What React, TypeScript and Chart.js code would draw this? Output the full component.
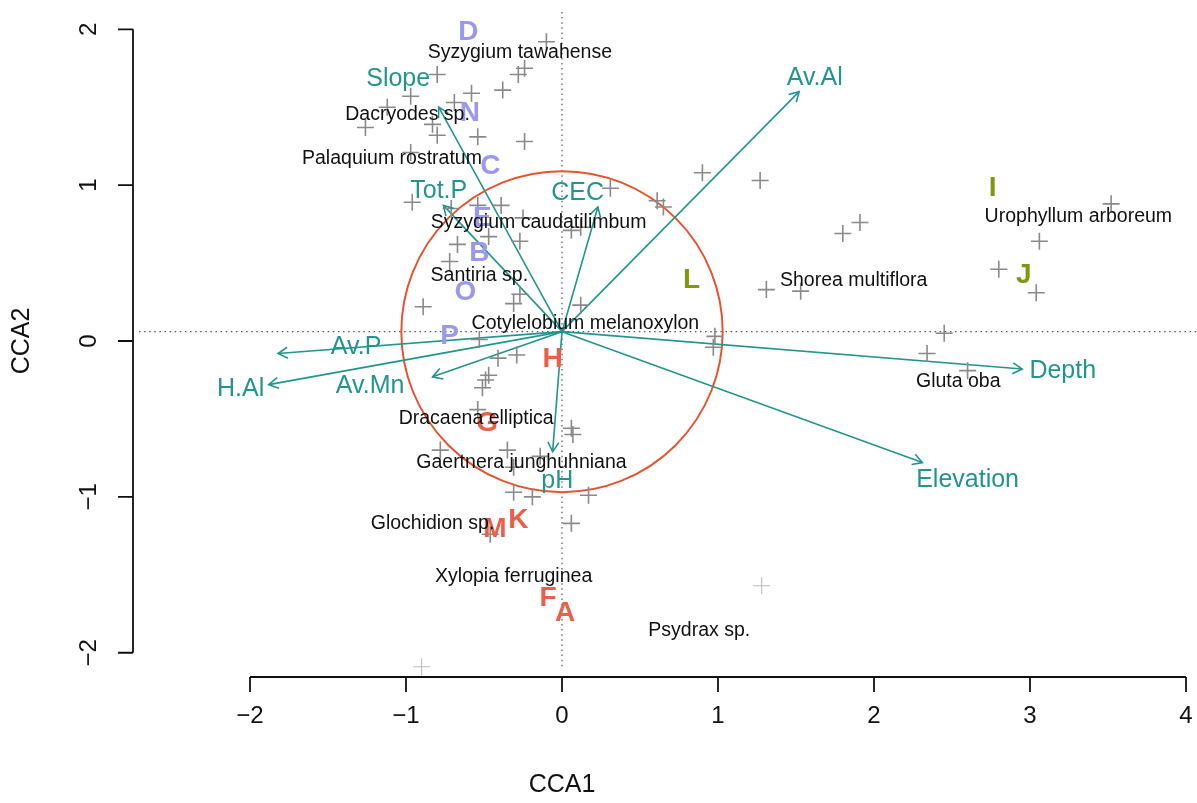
import React, { useEffect, useRef } from "react";
import { Chart, registerables } from "chart.js";

Chart.register(...registerables);

// ---------- axes ----------
const xTicks = [-2, -1, 0, 1, 2, 3, 4];
const yTicks = [-2, -1, 0, 1, 2];
const xTitle = "CCA1";
const yTitle = "CCA2";
const xRange = [-2.7115, 4.0705];
const yRange = [-2.098, 2.111];

// ---------- species scores (crosses) ----------
const speciesX = [
  -0.10, -0.80, -0.97, -0.58, -0.38, -0.28, -0.24, -0.69, -0.83, -1.26,
  -0.80, -0.54, -0.24, -0.97, -1.12, -0.96, -0.71, -0.54, -0.39, -0.25,
  -0.67, -0.47, -0.27, -0.72, -0.89, -0.31, -0.27, 0.12, 0.31, 0.61,
  0.65, 0.06, 0.12, 0.98, 0.97, -0.53, -0.41, -0.29, -0.47, -0.49,
  -0.51, -0.54, 0.06, 0.07, -0.78, -0.35, -0.14, -0.31, -0.31, -0.19,
  0.17, 0.06, -0.46, 0.90, 1.27, 1.80, 1.91, 1.31, 1.53, 3.52,
  3.06, 2.80, 3.04, 2.45, 2.34, 2.60,
];
const speciesY = [
  1.92, 1.71, 1.57, 1.59, 1.61, 1.71, 1.75, 1.53, 1.39, 1.37,
  1.32, 1.31, 1.28, 1.21, 1.50, 0.89, 0.85, 0.87, 0.87, 0.79,
  0.62, 0.67, 0.64, 0.51, 0.22, 0.24, 0.30, 0.23, 0.98, 0.90,
  0.86, 0.71, 0.73, 0.03, -0.04, 0.01, -0.11, -0.09, -0.22, -0.25,
  -0.30, -0.44, -0.56, -0.60, -0.70, -0.70, -0.74, -0.81, -0.97, -1.00,
  -0.99, -1.17, -1.24, 1.08, 1.03, 0.69, 0.76, 0.33, 0.32, 0.88,
  0.64, 0.46, 0.31, 0.05, -0.08, -0.19,
];
// faint crosses
const faintX = [1.28, -0.90];
const faintY = [-1.57, -2.09];

// ---------- species names ----------
const speciesNames = [
  "Syzygium tawahense", "Dacryodes sp.", "Palaquium rostratum",
  "Syzygium caudatilimbum", "Santiria sp.", "Cotylelobium melanoxylon",
  "Shorea multiflora", "Urophyllum arboreum", "Gluta oba",
  "Dracaena elliptica", "Gaertnera junghuhniana", "Glochidion sp.",
  "Xylopia ferruginea", "Psydrax sp.",
];
const speciesLabelX = [-0.27, -0.99, -1.09, -0.15, -0.53, 0.15, 1.87, 3.31, 2.54, -0.55, -0.26, -0.83, -0.31, 0.88];
const speciesLabelY = [1.85, 1.45, 1.17, 0.76, 0.42, 0.11, 0.385, 0.80, -0.26, -0.50, -0.78, -1.17, -1.51, -1.86];

// ---------- environmental vectors ----------
const envOrigin = [0, 0.06];
const envNames = ["Av.Al", "Depth", "Elevation", "Slope", "Tot.P", "CEC", "Av.P", "H.Al", "Av.Mn", "pH"];
const envTipX = [1.52, 2.95, 2.31, -0.79, -0.76, 0.23, -1.82, -1.88, -0.83, -0.06];
const envTipY = [1.60, -0.18, -0.78, 1.50, 0.87, 0.86, -0.08, -0.28, -0.23, -0.71];
const envLabelX = [1.62, 3.21, 2.60, -1.05, -0.79, 0.10, -1.32, -2.06, -1.23, -0.03];
const envLabelY = [1.69, -0.19, -0.89, 1.68, 0.96, 0.95, -0.04, -0.31, -0.29, -0.90];

// ---------- sites ----------
const siteNames = ["D", "N", "C", "E", "B", "O", "P", "H", "G", "M", "K", "F", "A", "L", "I", "J"];
const siteX = [-0.60, -0.59, -0.46, -0.51, -0.53, -0.62, -0.72, -0.06, -0.48, -0.43, -0.28, -0.09, 0.02, 0.83, 2.76, 2.96];
const siteY = [1.98, 1.46, 1.12, 0.79, 0.56, 0.31, 0.03, -0.12, -0.53, -1.21, -1.15, -1.65, -1.75, 0.39, 0.98, 0.42];
const siteGroup = [0, 0, 0, 0, 0, 0, 0, 1, 1, 1, 1, 1, 1, 2, 2, 2];

// ---------- circle ----------
const circleRadius = 1.03;

// ---------- styles ----------
const TEAL = "#22958F";
const GROUP_COLORS = ["#9B98F2", "#EC5E48", "#7E990F"];
const CIRCLE_COLOR = "#E8532F";
const FONT = '"Liberation Sans", Arial, Helvetica, sans-serif';

const ccaPlugin = {
  id: "ccaDecor",
  beforeDatasetsDraw(chart: any) {
    const { ctx, chartArea: a, scales } = chart;
    const x = scales.x;
    const y = scales.y;
    const ox = x.getPixelForValue(envOrigin[0]);
    const oy = y.getPixelForValue(envOrigin[1]);
    ctx.save();
    ctx.strokeStyle = "#555555";
    ctx.lineWidth = 1.2;
    ctx.setLineDash([1.5, 3.6]);
    ctx.beginPath();
    ctx.moveTo(a.left, oy);
    ctx.lineTo(a.right, oy);
    ctx.moveTo(ox, a.top);
    ctx.lineTo(ox, a.bottom);
    ctx.stroke();
    ctx.setLineDash([]);
    const rx = x.getPixelForValue(envOrigin[0] + circleRadius) - ox;
    const ry = oy - y.getPixelForValue(envOrigin[1] + circleRadius);
    ctx.strokeStyle = CIRCLE_COLOR;
    ctx.lineWidth = 2;
    ctx.beginPath();
    ctx.ellipse(ox, oy, rx, ry, 0, 0, Math.PI * 2);
    ctx.stroke();
    ctx.restore();
  },
  afterDatasetsDraw(chart: any) {
    const { ctx, scales } = chart;
    const x = scales.x;
    const y = scales.y;
    const ox = x.getPixelForValue(envOrigin[0]);
    const oy = y.getPixelForValue(envOrigin[1]);
    ctx.save();
    // arrow heads
    ctx.strokeStyle = TEAL;
    ctx.lineWidth = 1.6;
    envTipX.forEach((tx, i) => {
      const px = x.getPixelForValue(tx);
      const py = y.getPixelForValue(envTipY[i]);
      const ang = Math.atan2(py - oy, px - ox);
      const len = 11;
      const spread = Math.PI / 6;
      ctx.beginPath();
      ctx.moveTo(px - len * Math.cos(ang - spread), py - len * Math.sin(ang - spread));
      ctx.lineTo(px, py);
      ctx.lineTo(px - len * Math.cos(ang + spread), py - len * Math.sin(ang + spread));
      ctx.stroke();
    });
    ctx.textAlign = "center";
    ctx.textBaseline = "middle";
    // site letters
    ctx.font = `bold 28px ${FONT}`;
    siteNames.forEach((s, i) => {
      ctx.fillStyle = GROUP_COLORS[siteGroup[i]];
      ctx.fillText(s, x.getPixelForValue(siteX[i]), y.getPixelForValue(siteY[i]));
    });
    // species names
    ctx.font = `19.5px ${FONT}`;
    ctx.fillStyle = "#111111";
    speciesNames.forEach((s, i) => {
      ctx.fillText(s, x.getPixelForValue(speciesLabelX[i]), y.getPixelForValue(speciesLabelY[i]));
    });
    // env labels
    ctx.font = `25px ${FONT}`;
    ctx.fillStyle = TEAL;
    envNames.forEach((s, i) => {
      ctx.fillText(s, x.getPixelForValue(envLabelX[i]), y.getPixelForValue(envLabelY[i]));
    });
    ctx.restore();
  },
  afterDraw(chart: any) {
    const { ctx, scales } = chart;
    const x = scales.x;
    const y = scales.y;
    const axisY = 677;
    const axisX = 133;
    const tickLen = 15;
    ctx.save();
    ctx.strokeStyle = "#111111";
    ctx.lineWidth = 1.8;
    ctx.lineCap = "butt";
    // x axis
    const x0 = x.getPixelForValue(xTicks[0]);
    const x1 = x.getPixelForValue(xTicks[xTicks.length - 1]);
    ctx.beginPath();
    ctx.moveTo(x0, axisY);
    ctx.lineTo(x1, axisY);
    xTicks.forEach((t) => {
      const p = x.getPixelForValue(t);
      ctx.moveTo(p, axisY);
      ctx.lineTo(p, axisY + tickLen);
    });
    // y axis
    const y0 = y.getPixelForValue(yTicks[0]);
    const y1 = y.getPixelForValue(yTicks[yTicks.length - 1]);
    ctx.moveTo(axisX, y0);
    ctx.lineTo(axisX, y1);
    yTicks.forEach((t) => {
      const p = y.getPixelForValue(t);
      ctx.moveTo(axisX, p);
      ctx.lineTo(axisX - tickLen, p);
    });
    ctx.stroke();
    ctx.fillStyle = "#111111";
    ctx.textAlign = "center";
    ctx.textBaseline = "middle";
    ctx.font = `24px ${FONT}`;
    xTicks.forEach((t) => {
      ctx.fillText(t < 0 ? "\u2212" + Math.abs(t) : String(t), x.getPixelForValue(t), 716);
    });
    yTicks.forEach((t) => {
      ctx.save();
      ctx.translate(89, y.getPixelForValue(t));
      ctx.rotate(-Math.PI / 2);
      ctx.fillText(t < 0 ? "\u2212" + Math.abs(t) : String(t), 0, 0);
      ctx.restore();
    });
    ctx.font = `25px ${FONT}`;
    ctx.fillText(xTitle, x.getPixelForValue(0), 785);
    ctx.save();
    ctx.translate(22, y.getPixelForValue(0));
    ctx.rotate(-Math.PI / 2);
    ctx.fillText(yTitle, 0, 0);
    ctx.restore();
    ctx.restore();
  },
};

export default function App() {
  const ref = useRef<HTMLCanvasElement | null>(null);
  useEffect(() => {
    if (!ref.current) return;
    const arrowSets = envNames.map((n, i) => ({
      type: "line" as const,
      label: n,
      data: [
        { x: envOrigin[0], y: envOrigin[1] },
        { x: envTipX[i], y: envTipY[i] },
      ],
      borderColor: TEAL,
      borderWidth: 1.6,
      pointRadius: 0,
      showLine: true,
      fill: false,
    }));
    const chart = new Chart(ref.current, {
      type: "scatter",
      data: {
        datasets: [
          {
            label: "species",
            data: speciesX.map((v, i) => ({ x: v, y: speciesY[i] })),
            pointStyle: "cross",
            pointRadius: 8.5,
            borderColor: "#8a8a8a",
            borderWidth: 1.6,
            backgroundColor: "#8a8a8a",
          },
          {
            label: "faint",
            data: faintX.map((v, i) => ({ x: v, y: faintY[i] })),
            pointStyle: "cross",
            pointRadius: 8.5,
            borderColor: "#bcbcbc",
            borderWidth: 1.1,
            backgroundColor: "#bcbcbc",
          },
          ...arrowSets,
        ] as any,
      },
      options: {
        responsive: false,
        animation: false,
        clip: false as any,
        layout: { autoPadding: false, padding: { left: 139, right: 0, top: 12, bottom: 135 } } as any,
        plugins: { legend: { display: false }, tooltip: { enabled: false } },
        scales: {
          x: { type: "linear", min: xRange[0], max: xRange[1], display: false },
          y: { type: "linear", min: yRange[0], max: yRange[1], display: false },
        },
      },
      plugins: [ccaPlugin],
    });
    return () => chart.destroy();
  }, []);
  return (
    <div style={{ position: "fixed", left: 0, top: 0, width: 1197, height: 803, background: "#fff" }}>
      <canvas ref={ref} width={1197} height={803} style={{ display: "block" }} />
    </div>
  );
}
